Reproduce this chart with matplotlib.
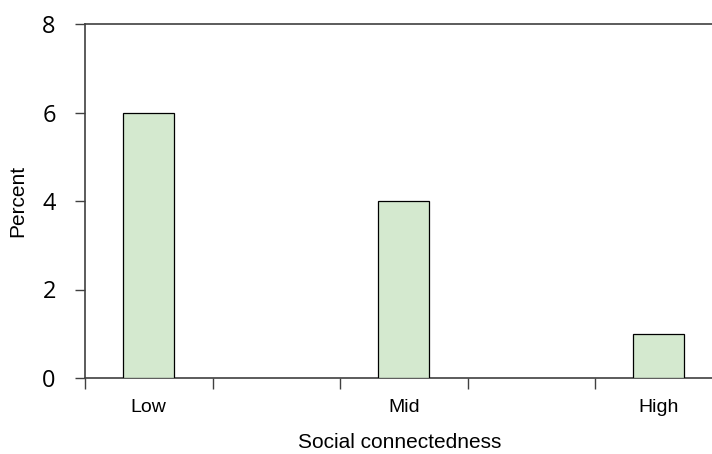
import matplotlib
matplotlib.use("Agg")
import matplotlib.pyplot as plt

categories = ["Low", "Mid", "High"]
values = [6.0, 4.0, 1.0]
y_ticks = [0, 2, 4, 6, 8]

fig = plt.figure(figsize=(7.12, 4.54), dpi=100)
x_left, x_right = -0.25, 2.22
px_per_unit = 255
left_px = 85
right_px = left_px + (x_right - x_left) * px_per_unit
ax = fig.add_axes([left_px / 712, (454 - 378) / 454, (right_px - left_px) / 712, (378 - 24) / 454])

xs = list(range(len(categories)))
ax.bar(xs, values, width=0.2, color="#d4e9cf", edgecolor="black", linewidth=0.9, zorder=3)

ax.set_xlim(x_left, x_right)
ax.set_ylim(0, 8)
ax.set_yticks(y_ticks)
ax.set_yticklabels([str(v) for v in y_ticks], fontsize=17, family=["Open Sans", "DejaVu Sans"])
ax.tick_params(axis="y", direction="out", length=7, width=1, color="#404040", pad=14)

ax.set_xticks([-0.25 + 0.5 * k for k in range(5)])
ax.set_xticklabels([])
ax.tick_params(axis="x", which="major", direction="out", length=8, width=1, color="#404040")
ax.set_xticks(xs, minor=True)
ax.set_xticklabels(categories, minor=True, fontsize=14, family=["Liberation Sans"])
ax.tick_params(axis="x", which="minor", length=0, pad=15)

for s in ["left", "bottom", "top", "right"]:
    ax.spines[s].set_color("#404040")
    ax.spines[s].set_linewidth(1.2)

ax.set_xlabel("Social connectedness", fontsize=15, family=["Liberation Sans"], labelpad=12)
ax.set_ylabel("Percent", fontsize=15, family=["Liberation Sans"], labelpad=11)

fig.savefig("out.png", dpi=100)
